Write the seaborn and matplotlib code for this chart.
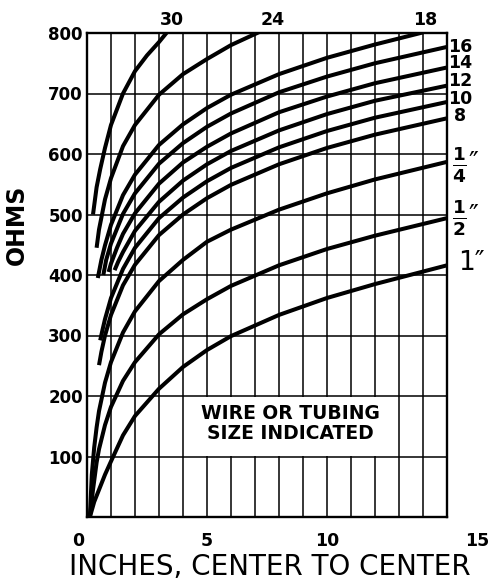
import matplotlib
matplotlib.use("Agg")
import matplotlib.pyplot as plt
from matplotlib.patches import Rectangle
from matplotlib.transforms import ScaledTranslation
import pandas as pd
import seaborn as sns

# Characteristic impedance of a two-wire line against conductor spacing,
# one curve per wire gauge (AWG) or tubing diameter.
x_g30 = [0.25, 0.4, 0.55, 0.75, 1.0, 1.5, 2.0, 2.5, 3.0, 3.35]
z_g30 = [500, 545, 575, 610, 648, 700, 737, 763, 785, 802]

x_g24 = [0.4, 0.5, 0.75, 1.0, 1.5, 2, 3, 4, 5, 6, 7.2]
z_g24 = [445, 475, 525, 560, 613, 648, 698, 732, 757, 780, 802]

x_g18 = [0.45, 0.6, 0.75, 1, 1.5, 2, 3, 4, 5, 6, 8, 10, 12, 14.0]
z_g18 = [395, 425, 449, 483, 532, 566, 615, 649, 676, 698, 732, 759, 781, 801]

x_g16 = [0.68, 0.8, 1, 1.5, 2, 3, 4, 5, 6, 8, 10, 12, 15]
z_g16 = [400, 425, 452, 501, 535, 584, 618, 645, 667, 702, 728, 750, 777]

x_g14 = [0.9, 1, 1.25, 1.5, 2, 3, 4, 5, 6, 8, 10, 12, 15]
z_g14 = [405, 419, 445, 468, 502, 551, 586, 612, 634, 669, 695, 717, 743]

x_g12 = [1.15, 1.3, 1.5, 2, 3, 4, 5, 6, 8, 10, 12, 15]
z_g12 = [408, 422, 438, 473, 521, 556, 583, 605, 639, 666, 688, 713]

x_g10 = [0.55, 0.65, 0.75, 1, 1.5, 2, 3, 4, 5, 6, 8, 10, 12, 15]
z_g10 = [292, 310, 327, 362, 410, 445, 494, 528, 555, 577, 611, 638, 660, 686]

x_g8 = [0.5, 0.6, 0.75, 1, 1.5, 2, 3, 4, 5, 6, 8, 10, 12, 15]
z_g8 = [251, 273, 300, 334, 383, 417, 466, 500, 527, 549, 583, 610, 632, 659]

x_t14 = [0.12, 0.2, 0.3, 0.4, 0.5, 0.75, 1, 1.5, 2, 3, 4, 5, 6, 8, 10, 12, 15]
z_t14 = [0, 70, 115, 148, 175, 222, 256, 305, 340, 390, 425, 455, 475, 508, 535, 558, 587]

x_t12 = [0.12, 0.25, 0.4, 0.5, 0.75, 1, 1.5, 2, 3, 4, 5, 6, 8, 10, 12, 15]
z_t12 = [0, 45, 90, 112, 152, 182, 225, 256, 302, 335, 360, 382, 416, 443, 465, 494]

x_t1 = [0.12, 0.3, 0.5, 0.75, 1, 1.5, 2, 3, 4, 5, 6, 8, 10, 12, 15]
z_t1 = [0, 25, 45, 70, 92, 135, 167, 212, 248, 276, 299, 334, 362, 385, 416]

curves = {
    "30": (x_g30, z_g30), "24": (x_g24, z_g24), "18": (x_g18, z_g18),
    "16": (x_g16, z_g16), "14": (x_g14, z_g14), "12": (x_g12, z_g12),
    "10": (x_g10, z_g10), "8": (x_g8, z_g8),
    "1/4 in": (x_t14, z_t14), "1/2 in": (x_t12, z_t12), "1 in": (x_t1, z_t1),
}

df = pd.concat(
    [pd.DataFrame({"spacing": xs, "ohms": zs, "size": name})
     for name, (xs, zs) in curves.items()],
    ignore_index=True,
)

sns.set_style("white")
plt.rcParams["font.family"] = ["DejaVu Sans"]
plt.rcParams["mathtext.fontset"] = "dejavusans"
for key in ["text.color", "axes.labelcolor", "xtick.color", "ytick.color"]:
    plt.rcParams[key] = "black"

fig = plt.figure(figsize=(4.97, 5.81), dpi=100)
ax = fig.add_axes([87 / 497, 1 - 517 / 581, 360 / 497, 484 / 581])

sns.lineplot(data=df, x="spacing", y="ohms", units="size", estimator=None,
             sort=False, color="black", linewidth=2.9, legend=False, ax=ax,
             zorder=3, solid_capstyle="butt")

ax.set_xlim(0, 15)
ax.set_ylim(0, 800)

ax.set_xticks([0, 5, 10, 15], labels=["0", "5", "10", "15"])
ax.set_xticks(range(1, 15), minor=True)
ax.set_yticks(range(100, 801, 100), labels=[str(v) for v in range(100, 801, 100)])
ax.tick_params(axis="both", which="both", length=0, colors="black")
ax.tick_params(axis="x", pad=11, labelsize=12.5)
ax.tick_params(axis="y", pad=3, labelsize=12)
for lab in ax.get_xticklabels() + ax.get_yticklabels():
    lab.set_fontweight("bold")
    lab.set_color("black")

# nudge the end labels of the spacing axis outward
xl = ax.get_xticklabels()
xl[0].set_transform(xl[0].get_transform() + ScaledTranslation(-0.09, 0, fig.dpi_scale_trans))
xl[-1].set_transform(xl[-1].get_transform() + ScaledTranslation(0.30, 0, fig.dpi_scale_trans))

ax.grid(which="both", color="black", linewidth=1.1)
ax.set_axisbelow(True)
for sp in ax.spines.values():
    sp.set_color("black")
    sp.set_linewidth(1.7)

ax.set_xlabel("INCHES, CENTER TO CENTER", fontsize=20, color="black")
ax.xaxis.set_label_coords((270 - 87) / 360, (517 - 567) / 484)
ax.xaxis.label.set_va("center")
ax.set_ylabel("OHMS", fontsize=17, fontweight="bold", color="black")
ax.yaxis.set_label_coords((17 - 87) / 360, (517 - 225) / 484)
ax.yaxis.label.set_va("center")

# legend box inside the grid
ax.add_patch(Rectangle((4.06, 101.5), 8.88, 97, facecolor="white",
                       edgecolor="none", zorder=2))
ax.text(8.46, 155, "WIRE OR TUBING\nSIZE INDICATED", ha="center", va="center",
        fontsize=13.5, fontweight="bold", linespacing=1.05, zorder=4)

# curve labels
top_kw = dict(ha="center", va="center", fontsize=12.5, fontweight="bold",
              clip_on=False)
ax.text(3.54, 821, "30", **top_kw)
ax.text(7.75, 821, "24", **top_kw)
ax.text(14.08, 821, "18", **top_kw)

side_kw = dict(ha="center", va="center", fontsize=12.5, fontweight="bold",
               clip_on=False)
for lab, yv in [("16", 777), ("14", 750), ("12", 721), ("10", 691), ("8", 662)]:
    ax.text(15.54, yv, lab, **side_kw)

ax.text(15.2, 582, r"$\frac{\mathbf{1}}{\mathbf{4}}$″", ha="left", va="center",
        fontsize=19, clip_on=False)
ax.text(15.2, 494, r"$\frac{\mathbf{1}}{\mathbf{2}}$″", ha="left", va="center",
        fontsize=19, clip_on=False)
ax.text(15.45, 420, "1″", ha="left", va="center", fontsize=19, clip_on=False)

fig.savefig("out.png", dpi=100)
